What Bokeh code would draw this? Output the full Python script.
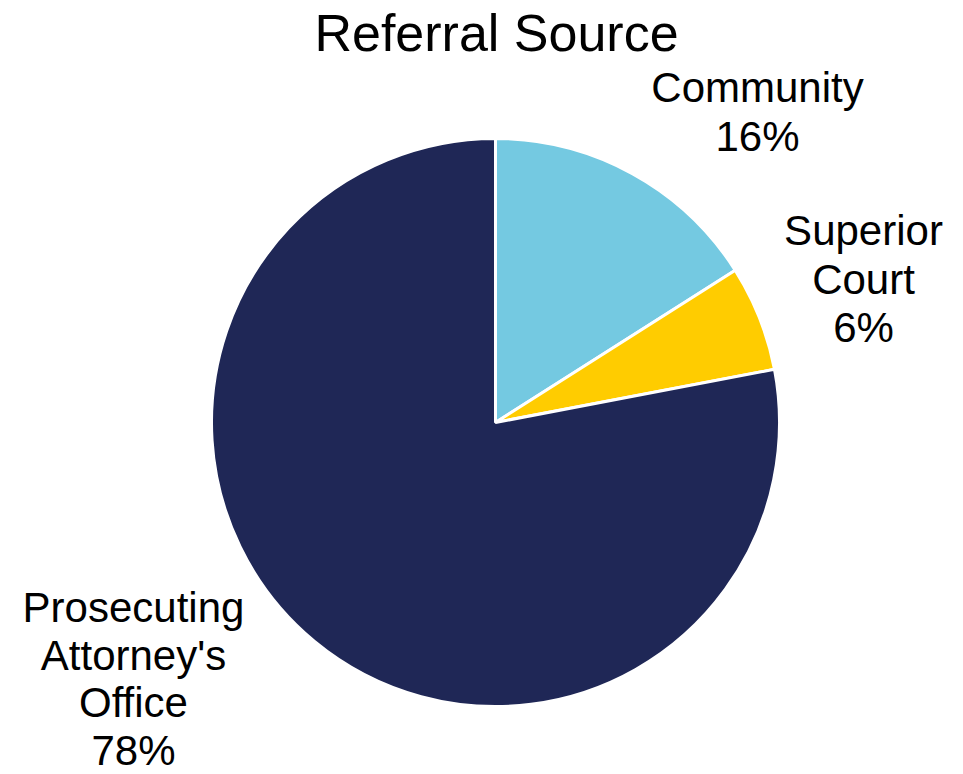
import numpy as np
from bokeh.plotting import figure
from bokeh.models import Range1d, ColumnDataSource
from bokeh.core.properties import value
from bokeh.embed import file_html
from bokeh.resources import INLINE

# ---- data ----
title_text = "Referral Source"
categories = ["Community", "Superior Court", "Prosecuting Attorney's Office"]
percents = [16, 6, 78]
colors = ["#74C9E1", "#FFCC00", "#1F2756"]
label_lines = [["Community", "16%"], ["Superior", "Court", "6%"],
               ["Prosecuting", "Attorney's", "Office", "78%"]]

# ---- layout (picture px coords -> data coords) ----
W, H = 947, 774
def px(x): return x
def py(y): return H - y

cx, cy, R = px(495), py(422), 284
label_anchor = [(757, 87), (863, 230), (133, 607)]  # first-line centre (px)
line_steps = [48.5, 48.5, 47.5]

p = figure(width=W, height=H, output_backend="svg", toolbar_location=None,
           x_range=Range1d(0, W), y_range=Range1d(0, H), min_border=0,
           x_axis_type=None, y_axis_type=None, title=None)
p.grid.visible = False
p.outline_line_color = None
p.background_fill_color = "white"
p.border_fill_color = "white"

fr = np.array(percents, dtype=float) / sum(percents)
cum = np.concatenate([[0], np.cumsum(fr)])
start = np.pi / 2 - cum[:-1] * 2 * np.pi
end = np.pi / 2 - cum[1:] * 2 * np.pi
src = ColumnDataSource(dict(x=[cx] * 3, y=[cy] * 3, start=list(start), end=list(end),
                            color=colors, cat=categories))
p.wedge(x="x", y="y", radius=R, radius_units="screen", start_angle="start",
        end_angle="end", direction="clock", fill_color="color",
        line_color="white", line_width=3, source=src)

tx, ty, tt = [], [], []
for (ax, ay), step, lines in zip(label_anchor, line_steps, label_lines):
    for i, ln in enumerate(lines):
        tx.append(px(ax)); ty.append(py(ay + i * step)); tt.append(ln)
p.text(x=tx, y=ty, text=tt, text_font=value("Liberation Sans"), text_font_size="42px",
       text_align="center", text_baseline="middle", text_color="black")

p.text(x=[px(496)], y=[py(32)], text=[title_text], text_font=value("Liberation Sans"),
       text_font_size="52px", text_align="center", text_baseline="middle",
       text_color="black")

open("out.html", "w").write(file_html(p, INLINE))
